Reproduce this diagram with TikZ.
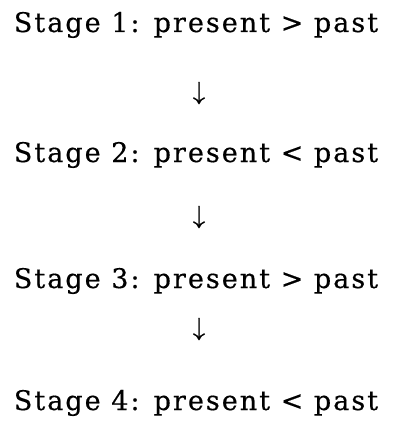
\documentclass[tikz,border=0pt]{standalone}
\usepackage{fontspec}
\newfontfamily\stagefont[LetterSpace=7.5,FakeBold=0.45]{DejaVu Serif}
\newfontfamily\arrowfont[FakeBold=1.5]{Latin Modern Math}
\begin{document}
\begin{tikzpicture}[x=1pt,y=1pt,
  stage/.style={anchor=base,inner sep=0pt,font=\stagefont\fontsize{27}{31}\selectfont},
  flow/.style={inner sep=0pt,font=\arrowfont\fontsize{25}{30}\selectfont}]
\useasboundingbox (0,0) rectangle (392,-425);
\node[stage] (s1) at (196,-32) {Stage 1: present > past};
\node[stage] (s2) at (196,-162) {Stage 2: present < past};
\node[stage] (s3) at (196,-288) {Stage 3: present > past};
\node[stage] (s4) at (196,-410) {Stage 4: present < past};
\node[flow] (a1) at (199,-93) {↓};
\node[flow] (a2) at (199,-217) {↓};
\node[flow] (a3) at (199,-329) {↓};
\end{tikzpicture}
\end{document}
